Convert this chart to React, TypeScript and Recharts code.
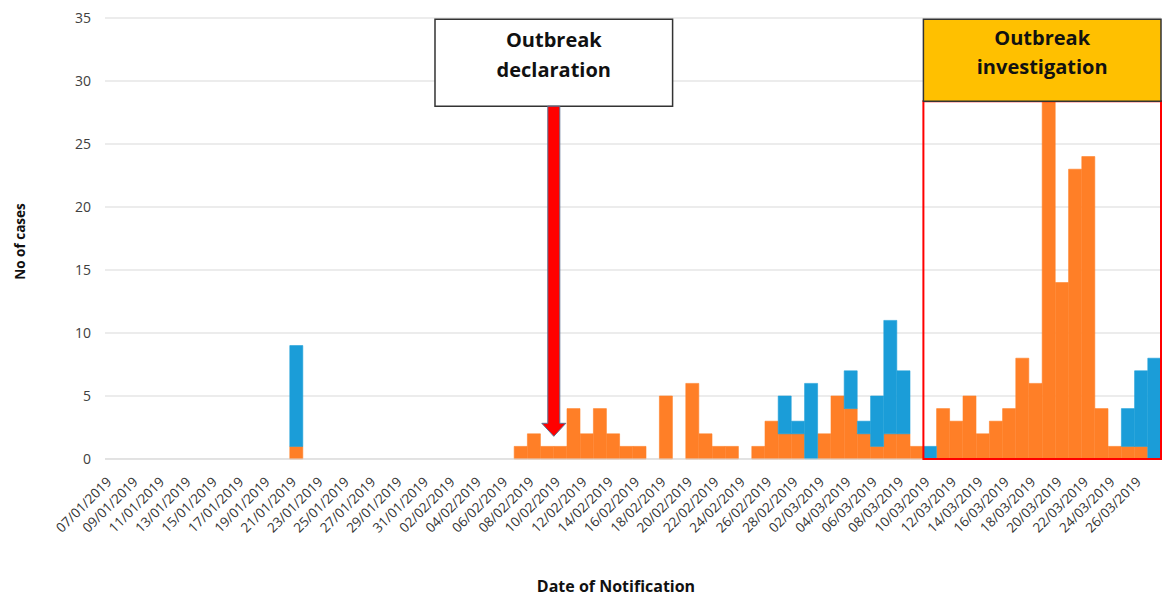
import React from 'react';
import { BarChart, Bar, XAxis, YAxis, CartesianGrid, ReferenceArea, ReferenceLine, Label } from 'recharts';

const dates = [
  '07/01/2019', '08/01/2019', '09/01/2019', '10/01/2019', '11/01/2019', '12/01/2019', '13/01/2019', '14/01/2019',
  '15/01/2019', '16/01/2019', '17/01/2019', '18/01/2019', '19/01/2019', '20/01/2019', '21/01/2019', '22/01/2019',
  '23/01/2019', '24/01/2019', '25/01/2019', '26/01/2019', '27/01/2019', '28/01/2019', '29/01/2019', '30/01/2019',
  '31/01/2019', '01/02/2019', '02/02/2019', '03/02/2019', '04/02/2019', '05/02/2019', '06/02/2019', '07/02/2019',
  '08/02/2019', '09/02/2019', '10/02/2019', '11/02/2019', '12/02/2019', '13/02/2019', '14/02/2019', '15/02/2019',
  '16/02/2019', '17/02/2019', '18/02/2019', '19/02/2019', '20/02/2019', '21/02/2019', '22/02/2019', '23/02/2019',
  '24/02/2019', '25/02/2019', '26/02/2019', '27/02/2019', '28/02/2019', '01/03/2019', '02/03/2019', '03/03/2019',
  '04/03/2019', '05/03/2019', '06/03/2019', '07/03/2019', '08/03/2019', '09/03/2019', '10/03/2019', '11/03/2019',
  '12/03/2019', '13/03/2019', '14/03/2019', '15/03/2019', '16/03/2019', '17/03/2019', '18/03/2019', '19/03/2019',
  '20/03/2019', '21/03/2019', '22/03/2019', '23/03/2019', '24/03/2019', '25/03/2019', '26/03/2019', '27/03/2019',
];

const orangeCases = [
  0, 0, 0, 0, 0, 0, 0, 0,
  0, 0, 0, 0, 0, 0, 1, 0,
  0, 0, 0, 0, 0, 0, 0, 0,
  0, 0, 0, 0, 0, 0, 0, 1,
  2, 1, 1, 4, 2, 4, 2, 1,
  1, 0, 5, 0, 6, 2, 1, 1,
  0, 1, 3, 2, 2, 0, 2, 5,
  4, 2, 1, 2, 2, 1, 0, 4,
  3, 5, 2, 3, 4, 8, 6, 30,
  14, 23, 24, 4, 1, 1, 1, 0,
];

const blueCases = [
  0, 0, 0, 0, 0, 0, 0, 0,
  0, 0, 0, 0, 0, 0, 8, 0,
  0, 0, 0, 0, 0, 0, 0, 0,
  0, 0, 0, 0, 0, 0, 0, 0,
  0, 0, 0, 0, 0, 0, 0, 0,
  0, 0, 0, 0, 0, 0, 0, 0,
  0, 0, 0, 3, 1, 6, 0, 0,
  3, 1, 4, 9, 5, 0, 1, 0,
  0, 0, 0, 0, 0, 0, 0, 0,
  0, 0, 0, 0, 0, 3, 6, 8,
];

const yTicks = [0, 5, 10, 15, 20, 25, 30, 35];

const declarationLines = ['Outbreak', 'declaration'];
const investigationLines = ['Outbreak', 'investigation'];

const data = dates.map((d, i) => ({ date: d, orange: orangeCases[i], blue: blueCases[i] }));

const FONT = '"Open Sans", "DejaVu Sans", sans-serif';
const ORANGE = '#FF7F27';
const BLUE = '#1B9DD8';

const DateTick = (props: any) => {
  const { x, y, payload } = props;
  return (
    <g transform={`translate(${x - 2},${y + 13})`}>
      <text x={0} y={0} dy={4} textAnchor="end" transform="rotate(-45)" fontSize={13.5} fill="#333" fontFamily={FONT}>
        {payload.value}
      </text>
    </g>
  );
};

const BoxLabel = (props: any) => {
  const { viewBox, lines, first, step } = props;
  const { x, y, width } = viewBox;
  const cx = x + width / 2;
  return (
    <text textAnchor="middle" fontWeight="bold" fontSize={20} fill="#111" fontFamily={FONT}>
      {lines.map((l: string, i: number) => (
        <tspan key={i} x={cx} y={y + first + i * step}>{l}</tspan>
      ))}
    </text>
  );
};

const ArrowShape = (props: any) => {
  const { x1, y1, x2, y2 } = props;
  const x = (x1 + x2) / 2;
  const top = Math.min(y1, y2);
  const tip = Math.max(y1, y2);
  const headH = 13;
  const headW = 12;
  const shaftW = 6;
  const pts = [
    [x - shaftW, top],
    [x + shaftW, top],
    [x + shaftW, tip - headH],
    [x + headW, tip - headH],
    [x, tip],
    [x - headW, tip - headH],
    [x - shaftW, tip - headH],
  ].map((p) => p.join(',')).join(' ');
  return <polygon points={pts} fill="#FF0000" stroke="#5B6F8F" strokeWidth={1} />;
};

export default function App() {
  return (
    <div style={{ position: 'absolute', left: 0, top: 0, width: 1163, height: 597, background: '#fff', fontFamily: FONT }}>
      <BarChart width={1163} height={597} data={data} margin={{ top: 18, right: 2, bottom: 0, left: 0 }} barCategoryGap={0} barGap={0}>
        <CartesianGrid vertical={false} stroke="#D9D9D9" strokeWidth={1} />
        <XAxis
          dataKey="date"
          interval={1}
          height={138}
          tickLine={false}
          axisLine={{ stroke: '#D9D9D9' }}
          tick={<DateTick />}
        >
          <Label
            content={(p: any) => (
              <text x={p.viewBox.x + p.viewBox.width / 2 - 17} y={p.viewBox.y + 133} textAnchor="middle" fontWeight="bold" fontSize={16} fill="#111" fontFamily={FONT}>
                Date of Notification
              </text>
            )}
          />
        </XAxis>
        <YAxis
          width={105}
          domain={[0, 35]}
          ticks={yTicks}
          tickLine={false}
          axisLine={false}
          tickMargin={8}
          tick={{ fontSize: 14, fill: '#404040', fontFamily: FONT }}
          interval={0}
        >
          <Label
            content={(p: any) => {
              const cx = p.viewBox.x + 20;
              const cy = p.viewBox.y + p.viewBox.height / 2 + 3;
              return (
                <text x={cx} y={cy} textAnchor="middle" fontWeight="bold" fontSize={13.5} fill="#111" fontFamily={FONT} transform={`rotate(-90, ${cx}, ${cy})`} dominantBaseline="central">
                  No of cases
                </text>
              );
            }}
          />
        </YAxis>
        <Bar dataKey="orange" stackId="a" fill={ORANGE} stroke={ORANGE} strokeWidth={0.6} isAnimationActive={false} />
        <Bar dataKey="blue" stackId="a" fill={BLUE} stroke={BLUE} strokeWidth={0.6} isAnimationActive={false} />
        <ReferenceArea
          x1="10/03/2019"
          x2="27/03/2019"
          y1={0}
          y2={28.4}
          fill="none"
          fillOpacity={0}
          stroke="#FF0000"
          strokeWidth={2}
          zIndex={2500}
        />
        <ReferenceArea
          x1="10/03/2019"
          x2="27/03/2019"
          y1={28.4}
          y2={34.9}
          fill="#FFC000"
          fillOpacity={1}
          stroke="#333"
          strokeWidth={1.5}
          zIndex={2600}
          label={<BoxLabel lines={investigationLines} first={26} step={28.5} />}
        />
        <ReferenceArea
          x1="01/02/2019"
          x2="18/02/2019"
          y1={28.0}
          y2={34.9}
          fill="#FFFFFF"
          fillOpacity={1}
          stroke="#333"
          strokeWidth={1.5}
          zIndex={2600}
          label={<BoxLabel lines={declarationLines} first={27.5} step={30} />}
        />
        <ReferenceLine
          segment={[{ x: '10/02/2019', y: 28.0 }, { x: '10/02/2019', y: 1.8 }]}
          position="start"
          stroke="#FF0000"
          shape={<ArrowShape />}
          zIndex={2700}
        />
      </BarChart>
    </div>
  );
}
